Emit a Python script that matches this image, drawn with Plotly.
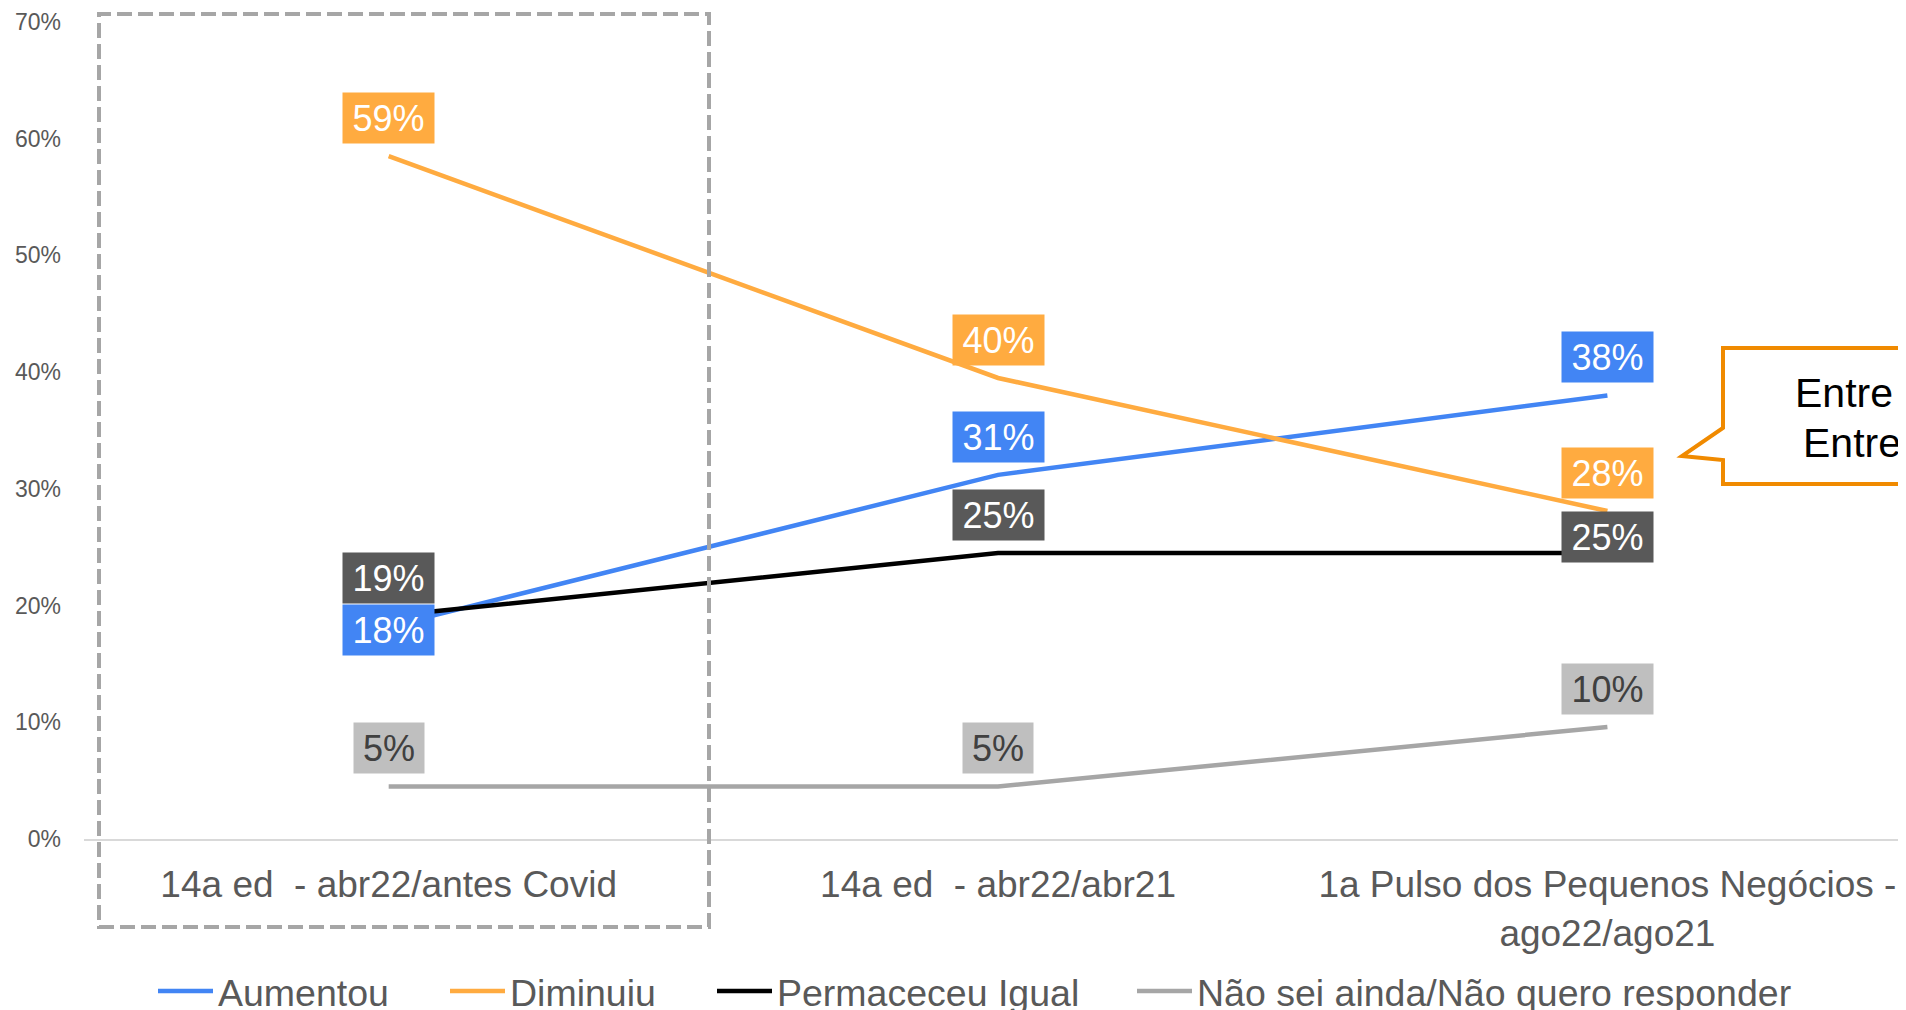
import plotly.graph_objects as go

# Data
categories = ["14a ed \u00a0- abr22/antes Covid", "14a ed \u00a0- abr22/abr21",
              "1a Pulso dos Pequenos Negócios -<br>ago22/ago21"]
series_names = ["Aumentou", "Diminuiu", "Permaceceu Igual", "Não sei ainda/Não quero responder"]
aumentou = [0.182, 0.312, 0.380]
diminuiu = [0.585, 0.395, 0.281]
permaneceu = [0.191, 0.245, 0.245]
nao_sei = [0.045, 0.045, 0.096]
aumentou_labels = ["18%", "31%", "38%"]
diminuiu_labels = ["59%", "40%", "28%"]
permaneceu_labels = ["19%", "25%", "25%"]
nao_sei_labels = ["5%", "5%", "10%"]
y_ticks = [0, 0.1, 0.2, 0.3, 0.4, 0.5, 0.6, 0.7]

# Styles
LINE_COLORS = ["#4285F4", "#FFAB40", "#000000", "#A6A6A6"]
LABEL_BG = ["#4285F4", "#FFAB40", "#595959", "#BFBFBF"]
LABEL_FG = ["white", "white", "white", "#404040"]
FONT = "Liberation Sans, Arial, sans-serif"
AXIS_GRAY = "#595959"

# figure size / plot area; the page puts the figure 8px in from the corner
W, H = 1906, 1010
OFF = 8
L, R, T, B = 76, 8, 14, 179
PW, PH = W - L - R, H - T - B


def px_x(px):
    # screen pixel -> paper x
    return (px - OFF - L) / PW


def px_y(py):
    # screen pixel -> paper y
    return (H - B - (py - OFF)) / PH


values = [aumentou, diminuiu, permaneceu, nao_sei]
labels = [aumentou_labels, diminuiu_labels, permaneceu_labels, nao_sei_labels]
# label offsets above the point (px); a few are nudged like in the original
label_shift = {(0, 0): -3, (2, 2): 16}

fig = go.Figure()
legend_ids = ["legend", "legend2", "legend3", "legend4"]
for i, name in enumerate(series_names):
    fig.add_trace(go.Scatter(
        x=categories, y=values[i], name=name, mode="lines",
        line=dict(color=LINE_COLORS[i], width=4.5),
        legend=legend_ids[i], hoverinfo="skip"
    ))

for i in range(len(series_names)):
    for j, cat in enumerate(categories):
        txt = labels[i][j]
        fig.add_annotation(
            x=cat, y=values[i][j], xref="x", yref="y",
            text=txt, showarrow=False,
            yshift=label_shift.get((i, j), 38),
            bgcolor=LABEL_BG[i], borderpad=0,
            width=91 if len(txt) > 2 else 70, height=50,
            font=dict(family=FONT, size=36, color=LABEL_FG[i])
        )

# dashed box round the first category
fig.add_shape(type="rect", xref="paper", yref="paper",
              x0=px_x(99), x1=px_x(709), y0=px_y(927), y1=px_y(14),
              line=dict(color="#A6A6A6", width=4, dash="15px,6px"))

# callout bubble on the right
pts = [(1930, 348), (1723, 348), (1723, 428), (1682, 456), (1723, 460), (1723, 484), (1930, 484)]
path = "M " + " L ".join(f"{px_x(x):.5f},{px_y(y):.5f}" for x, y in pts)
fig.add_shape(type="path", xref="paper", yref="paper", path=path,
              line=dict(color="#F08A00", width=4))
for x, y in [(1793, 393), (1801, 443)]:
    fig.add_annotation(x=px_x(x), y=px_y(y), xref="paper", yref="paper",
                       xanchor="left", yanchor="middle", showarrow=False,
                       text="Entre", font=dict(family=FONT, size=41, color="black"))

legend_x = [153, 445, 712, 1132]
leg_common = dict(orientation="h", xanchor="left", yanchor="middle", y=px_y(991),
                  font=dict(family=FONT, size=37.5, color=AXIS_GRAY),
                  itemwidth=55, bgcolor="rgba(0,0,0,0)")

fig.update_layout(
    width=W, height=H,
    margin=dict(l=L, r=R, t=T, b=B, autoexpand=False),
    plot_bgcolor="white", paper_bgcolor="white",
    font=dict(family=FONT, color=AXIS_GRAY),
    showlegend=True,
    legend=dict(x=px_x(legend_x[0]), **leg_common),
    legend2=dict(x=px_x(legend_x[1]), **leg_common),
    legend3=dict(x=px_x(legend_x[2]), **leg_common),
    legend4=dict(x=px_x(legend_x[3]), **leg_common),
)

fig.update_xaxes(range=[-0.5, 2.49], showgrid=False, zeroline=False,
                 showline=True, linecolor="#D9D9D9", linewidth=2,
                 ticks="", ticklabelstandoff=12,
                 tickfont=dict(family=FONT, size=37, color=AXIS_GRAY))
fig.update_yaxes(range=[0, 0.7], tickvals=y_ticks, tickformat=".0%",
                 showgrid=False, zeroline=False, showline=False,
                 ticks="", ticklabelstandoff=22,
                 tickfont=dict(family=FONT, size=23, color=AXIS_GRAY))

fig.write_html("out.html")
